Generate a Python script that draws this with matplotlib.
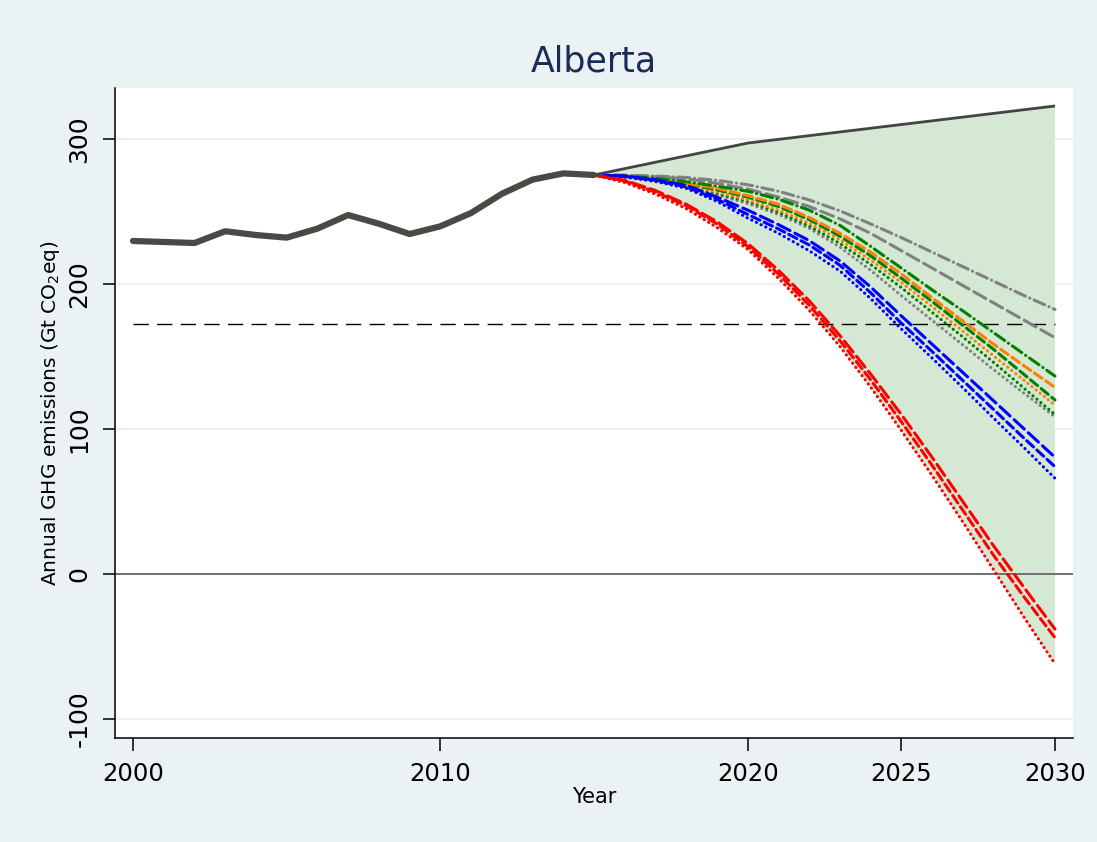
import numpy as np
import matplotlib
matplotlib.use("Agg")
import matplotlib.pyplot as plt

plt.rcParams['font.family'] = ['DejaVu Sans']

# Historical emissions
hist_years = [2000, 2001, 2002, 2003, 2004, 2005, 2006, 2007,
              2008, 2009, 2010, 2011, 2012, 2013, 2014, 2015]
hist_vals = [229.7, 229.0, 228.3, 236.4, 233.8, 232.0, 238.2, 247.6,
             241.6, 234.5, 239.8, 249.0, 262.2, 272.0, 276.3, 275.2]

# Business-as-usual upper bound
bau_years = [2015, 2020, 2030]
bau_vals = [275.2, 297.2, 322.8]

# Scenario pathways 2015-2030
proj_years = list(range(2015, 2031))
gray_dashdot = [275.2, 275.0, 274.5, 273.5, 271.5, 268.5, 264.0, 258.0, 250.5, 241.5, 232.0, 222.0, 212.0, 202.0, 192.0, 182.5]
gray_dash = [275.2, 275.0, 274.0, 272.5, 269.5, 265.5, 260.0, 253.5, 245.0, 235.0, 223.0, 211.0, 199.0, 187.0, 175.0, 163.0]
green_dashdot = [275.2, 274.5, 273.0, 270.5, 267.5, 264.0, 258.5, 251.0, 240.5, 226.0, 211.0, 196.0, 181.5, 166.5, 151.5, 136.5]
orange_dash = [275.2, 274.5, 272.5, 269.5, 266.0, 261.0, 255.0, 246.0, 235.0, 222.0, 207.0, 190.5, 174.5, 158.5, 143.5, 128.7]
green_dash = [275.2, 274.3, 272.0, 269.0, 265.0, 260.0, 253.5, 244.5, 233.0, 219.5, 204.0, 188.0, 171.5, 155.0, 137.5, 120.0]
orange_dot = [275.2, 274.0, 271.5, 268.0, 263.5, 258.0, 251.0, 242.0, 230.5, 216.5, 201.0, 184.5, 167.5, 150.5, 133.5, 116.5]
green_dot = [275.2, 274.0, 271.0, 267.0, 262.5, 257.0, 249.5, 240.0, 228.0, 213.5, 197.5, 180.5, 163.5, 146.0, 128.0, 110.0]
gray_dot = [275.2, 273.5, 270.5, 266.5, 261.5, 255.5, 248.0, 238.5, 225.5, 209.5, 192.0, 175.0, 158.0, 141.0, 124.5, 108.5]
blue_longdash = [275.2, 274.5, 272.0, 268.0, 260.0, 251.0, 241.0, 230.0, 216.0, 198.0, 178.0, 158.5, 139.0, 119.5, 100.0, 80.5]
blue_dash = [275.2, 274.3, 271.5, 267.0, 258.5, 248.0, 238.0, 227.0, 213.0, 194.0, 173.0, 153.5, 133.5, 113.5, 93.5, 74.0]
blue_dot = [275.2, 274.0, 271.0, 266.0, 257.0, 245.5, 235.0, 223.0, 209.0, 190.0, 169.0, 149.0, 128.5, 107.5, 87.0, 66.0]
red_longdash = [275.2, 271.5, 264.5, 255.0, 243.0, 228.0, 209.5, 188.5, 164.5, 138.0, 110.0, 80.5, 50.0, 19.5, -9.5, -38.0]
red_dash = [275.2, 271.0, 263.5, 254.0, 241.5, 226.0, 207.0, 185.5, 161.0, 134.0, 105.0, 75.0, 44.0, 13.0, -16.0, -44.0]
red_dot = [275.2, 270.0, 262.0, 252.0, 239.0, 224.0, 204.0, 182.0, 157.0, 129.0, 99.0, 68.0, 36.0, 3.0, -30.0, -62.0]

target_level = 172.4
target_span = [2000, 2030]

x_ticks = [2000, 2010, 2020, 2025, 2030]
y_ticks = [-100, 0, 100, 200, 300]

BG = '#eaf2f3'
FILL = '#d5e8d4'
GRAY = '#808080'
GREEN = '#008000'
ORANGE = '#ff7f00'
BLUE = '#0000ff'
RED = '#ff0000'

LONGDASH = (0, (4.5, 1.8))
DASH = (0, (3.0, 1.5))
DASHDOT = (0, (3.8, 1.5, 0.1, 1.5))
DOT = (0, (0.1, 1.6))

fig = plt.figure(figsize=(10.97, 8.42), dpi=100, facecolor=BG)
ax = fig.add_axes([115 / 1097, 1 - 738 / 842, (1073 - 115) / 1097, (738 - 88) / 842])
ax.set_facecolor('white')

ax.set_xlim(1999.414, 2030.586)
ax.set_ylim(-113.1, 335.2)

# gridlines
for yv in y_ticks:
    ax.axhline(yv, color=BG, lw=1.6, zorder=0.5)

# envelope between BAU and the lowest pathway
ax.fill(bau_years + proj_years[::-1], bau_vals + red_dot[::-1],
        color=FILL, lw=0, zorder=1)

ax.axhline(0, color='#707070', lw=1.4, zorder=2)
ax.plot(target_span, [target_level, target_level], color='black',
        lw=1.0, dashes=(11, 6), zorder=2)

LW = 2.2
series = [
    (gray_dashdot, GRAY, DASHDOT),
    (gray_dash, GRAY, LONGDASH),
    (gray_dot, GRAY, DOT),
    (green_dot, GREEN, DOT),
    (orange_dot, ORANGE, DOT),
    (green_dash, GREEN, DASH),
    (orange_dash, ORANGE, DASH),
    (green_dashdot, GREEN, DASHDOT),
    (blue_dot, BLUE, DOT),
    (blue_dash, BLUE, DASH),
    (blue_longdash, BLUE, LONGDASH),
    (red_dot, RED, DOT),
    (red_dash, RED, DASH),
    (red_longdash, RED, LONGDASH),
]
for vals, col, ls in series:
    ax.plot(proj_years, vals, color=col, lw=LW, linestyle=ls,
            dash_capstyle='round', zorder=3)

ax.plot(bau_years, bau_vals, color='#444444', lw=2.0, zorder=4,
        solid_capstyle='butt')
ax.plot(hist_years, hist_vals, color='#4a4a44', lw=4.5, zorder=5,
        solid_capstyle='round', solid_joinstyle='round')

for side in ('top', 'right'):
    ax.spines[side].set_visible(False)
for side in ('left', 'bottom'):
    ax.spines[side].set_color('black')
    ax.spines[side].set_linewidth(1.1)

ax.set_xticks(x_ticks)
ax.set_xticklabels([str(v) for v in x_ticks], fontsize=17.5)
ax.set_yticks(y_ticks)
ax.set_yticklabels([str(v) for v in y_ticks], fontsize=18, rotation=90,
                   va='center')
ax.tick_params(axis='both', direction='out', length=9, width=1.1,
               color='black', labelcolor='black')
ax.tick_params(axis='x', pad=8)
ax.tick_params(axis='y', pad=8)

ax.set_xlabel('Year', fontsize=15, labelpad=1)
ax.set_ylabel('Annual GHG emissions (Gt CO$_2$eq)', fontsize=14.5, labelpad=4)

fig.text((115 + 1073) / 2 / 1097, 1 - 62 / 842, 'Alberta', ha='center',
         va='center', fontsize=25, color='#1a2b5a')

fig.savefig('out.png', dpi=100, facecolor=BG)
